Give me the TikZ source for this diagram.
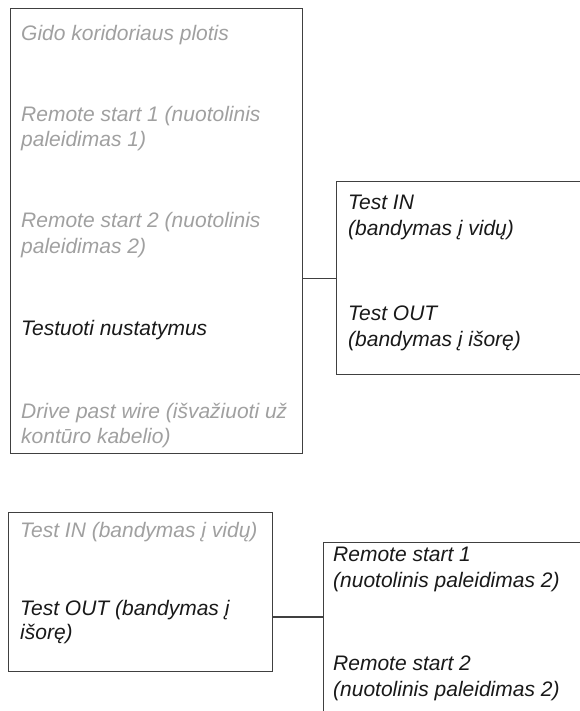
\documentclass[tikz,border=0pt]{standalone}
\usepackage{fontspec}
\setmainfont{Liberation Sans}
\begin{document}
\begin{tikzpicture}[x=1pt,y=-1pt,
  box/.style={draw=linegray,line width=1.2pt,rectangle,inner sep=0pt,anchor=north west},
  txt/.style={inner sep=0pt,anchor=base west,font=\fontsize{21}{26}\selectfont\itshape,text=black!90},
  dim/.style={txt,text=textgray},
  conn/.style={draw=linegray,line width=1.2pt}]
\definecolor{linegray}{HTML}{404040}
\definecolor{textgray}{HTML}{A0A0A0}
\useasboundingbox (0,0) rectangle (580,711);
\clip (0,0) rectangle (580,711);
% boxes
\node[box,minimum width=292pt,minimum height=445pt] (b1) at (10,8) {};
\node[box,minimum width=260pt,minimum height=193pt] (b2) at (336,181) {};
\node[box,minimum width=264pt,minimum height=159pt] (b3) at (8,512) {};
\node[box,minimum width=280pt,minimum height=300pt] (b4) at (323,542) {};
\coordinate (c3) at (323,617);
% connectors
\draw[conn] (b2.west -| b1.east) -- (b2.west);
\draw[conn] (c3 -| b3.east) -- (c3);
% box 1 texts
\node[dim] (t11) at (21,41) {Gido koridoriaus plotis};
\node[dim] (t12) at (21,122) {Remote start 1 (nuotolinis};
\node[dim] (t13) at (21,147) {paleidimas 1)};
\node[dim] (t14) at (21,228) {Remote start 2 (nuotolinis};
\node[dim] (t15) at (21,253) {paleidimas 2)};
\node[txt] (t16) at (21,335) {Testuoti nustatymus};
\node[dim] (t17) at (21,418) {Drive past wire (išvažiuoti už};
\node[dim] (t18) at (21,443) {kontūro kabelio)};
% box 2 texts
\node[txt] (t21) at (348,210) {Test IN};
\node[txt] (t22) at (348,236) {(bandymas į vidų)};
\node[txt] (t23) at (348,320) {Test OUT};
\node[txt] (t24) at (348,346) {(bandymas į išorę)};
% box 3 texts
\node[dim] (t31) at (20,537) {Test IN (bandymas į vidų)};
\node[txt] (t32) at (20,615) {Test OUT (bandymas į};
\node[txt] (t33) at (20,639) {išorę)};
% box 4 texts
\node[txt] (t41) at (333,561) {Remote start 1};
\node[txt] (t42) at (333,587) {(nuotolinis paleidimas 2)};
\node[txt] (t43) at (333,670) {Remote start 2};
\node[txt] (t44) at (333,696) {(nuotolinis paleidimas 2)};
\end{tikzpicture}
\end{document}
